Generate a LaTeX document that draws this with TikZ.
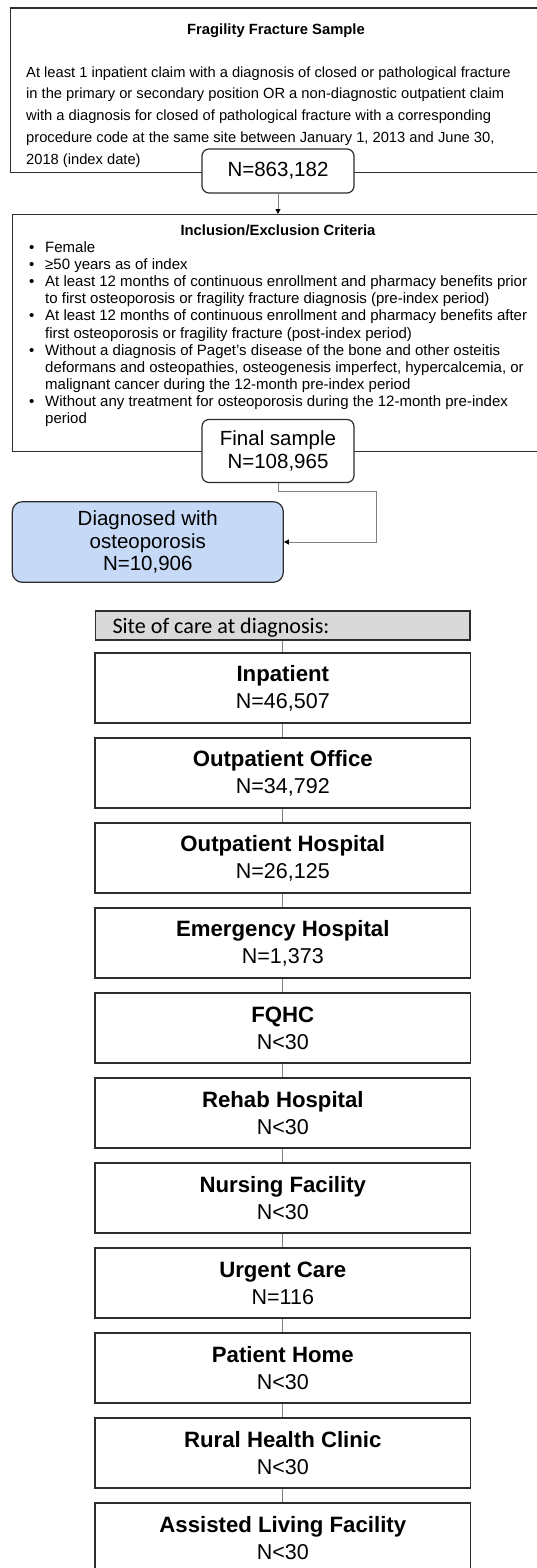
\documentclass[tikz,border=0pt]{standalone}
\usepackage{fontspec}
\setmainfont{Liberation Sans}
\newfontfamily\calibrifont{Carlito}
\usetikzlibrary{arrows.meta}
\definecolor{diagblue}{RGB}{198,217,246}
\definecolor{headgray}{RGB}{217,217,217}
\definecolor{boxline}{RGB}{45,45,45}
\definecolor{linkgray}{RGB}{128,128,128}

\begin{document}
\begin{tikzpicture}[x=1pt,y=-1pt]
 \tikzstyle{steps} = [draw=boxline, line width=1.2pt, inner sep=0pt];
 \tikzstyle{count} = [steps, rounded corners=7pt, fill=white, align=center, font=\fontsize{20.5}{22.3}\selectfont];
 \tikzstyle{site} = [steps, fill=white, minimum width=375.5pt, minimum height=70pt, align=center, font=\fontsize{21.5}{26.7}\selectfont];
 \tikzstyle{flow} = [-{Triangle[length=5pt,width=5pt,color=black]}, draw=linkgray, line width=0.9pt];
 \tikzstyle{link} = [draw=linkgray, line width=0.9pt];
 \tikzstyle{heading} = [inner sep=0pt, font=\bfseries\fontsize{14.8}{17}\selectfont];
 \tikzstyle{body} = [inner sep=0pt, align=left];
 \newcommand{\sitename}[1]{{\bfseries\fontsize{22.2}{26.7}\selectfont #1}}
 \clip (0,0) rectangle (537,1568);
 \fill [white] (0,0) rectangle (537,1568);

\node [steps, minimum width=545pt, minimum height=164pt, anchor=north west] (v1) at (10,7.5) {};
\node [heading, anchor=base] (v2) at (276,35) {Fragility Fracture Sample};
\node [body, anchor=base west, font=\fontsize{14.7}{21.7}\selectfont] (v3) at (26,164.1) {At least 1 inpatient claim with a diagnosis of closed or pathological fracture\\in the primary or secondary position OR a non-diagnostic outpatient claim\\with a diagnosis for closed of pathological fracture with a corresponding\\procedure code at the same site between January 1, 2013 and June 30,\\2018 (index date)};
\node [count, minimum width=152pt, minimum height=44pt] (v4) at (278,171) {N=863,182};

\node [steps, minimum width=545pt, minimum height=237pt, anchor=north west] (v5) at (12,214) {};
\draw [flow] (v4) -- (v4 |- v5.north);
\node [heading, anchor=base] (v6) at (278,235) {Inclusion/Exclusion Criteria};
\node [body, anchor=base west, font=\fontsize{15}{17.06}\selectfont] (v7) at (29,423.3) {\makebox[16pt][l]{•}Female\\
\makebox[16pt][l]{•}≥50 years as of index\\
\makebox[16pt][l]{•}At least 12 months of continuous enrollment and pharmacy benefits prior\\
\hspace*{16pt}to first osteoporosis or fragility fracture diagnosis (pre-index period)\\
\makebox[16pt][l]{•}At least 12 months of continuous enrollment and pharmacy benefits after\\
\hspace*{16pt}first osteoporosis or fragility fracture (post-index period)\\
\makebox[16pt][l]{•}Without a diagnosis of Paget’s disease of the bone and other osteitis\\
\hspace*{16pt}deformans and osteopathies, osteogenesis imperfect, hypercalcemia, or\\
\hspace*{16pt}malignant cancer during the 12-month pre-index period\\
\makebox[16pt][l]{•}Without any treatment for osteoporosis during the 12-month pre-index\\
\hspace*{16pt}period};
\node [count, minimum width=152pt, minimum height=63pt] (v8) at (278,451) {Final sample\\N=108,965};

\node [count, fill=diagblue, rounded corners=10pt, minimum width=271pt, minimum height=80.6pt] (v9) at (147.8,542) {Diagnosed with\\osteoporosis\\N=10,906};
\coordinate (v10) at (376.7,491.7);
\draw [flow] (v8) |- (v10) |- (v9);

\node [steps, fill=headgray, minimum width=374.5pt, minimum height=29pt] (v11) at (282.8,625.5) {};
\node [inner sep=0pt, anchor=base west, font=\calibrifont\fontsize{22.1}{26}\selectfont] (v12) at (112.3,633.3) {Site of care at diagnosis:};

\node [site] (v13) at (282.8,688) {\sitename{Inpatient}\\N=46,507};
\draw [link] (v11) -- (v13);
\node [site] (v14) at (282.8,773) {\sitename{Outpatient Office}\\N=34,792};
\draw [link] (v13) -- (v14);
\node [site] (v15) at (282.8,858) {\sitename{Outpatient Hospital}\\N=26,125};
\draw [link] (v14) -- (v15);
\node [site] (v16) at (282.8,943) {\sitename{Emergency Hospital}\\N=1,373};
\draw [link] (v15) -- (v16);
\node [site] (v17) at (282.8,1028) {\sitename{FQHC}\\N<30};
\draw [link] (v16) -- (v17);
\node [site] (v18) at (282.8,1113) {\sitename{Rehab Hospital}\\N<30};
\draw [link] (v17) -- (v18);
\node [site] (v19) at (282.8,1198) {\sitename{Nursing Facility}\\N<30};
\draw [link] (v18) -- (v19);
\node [site] (v20) at (282.8,1283) {\sitename{Urgent Care}\\N=116};
\draw [link] (v19) -- (v20);
\node [site] (v21) at (282.8,1368) {\sitename{Patient Home}\\N<30};
\draw [link] (v20) -- (v21);
\node [site] (v22) at (282.8,1453) {\sitename{Rural Health Clinic}\\N<30};
\draw [link] (v21) -- (v22);
\node [site] (v23) at (282.8,1538) {\sitename{Assisted Living Facility}\\N<30};
\draw [link] (v22) -- (v23);

\end{tikzpicture}
\end{document}
